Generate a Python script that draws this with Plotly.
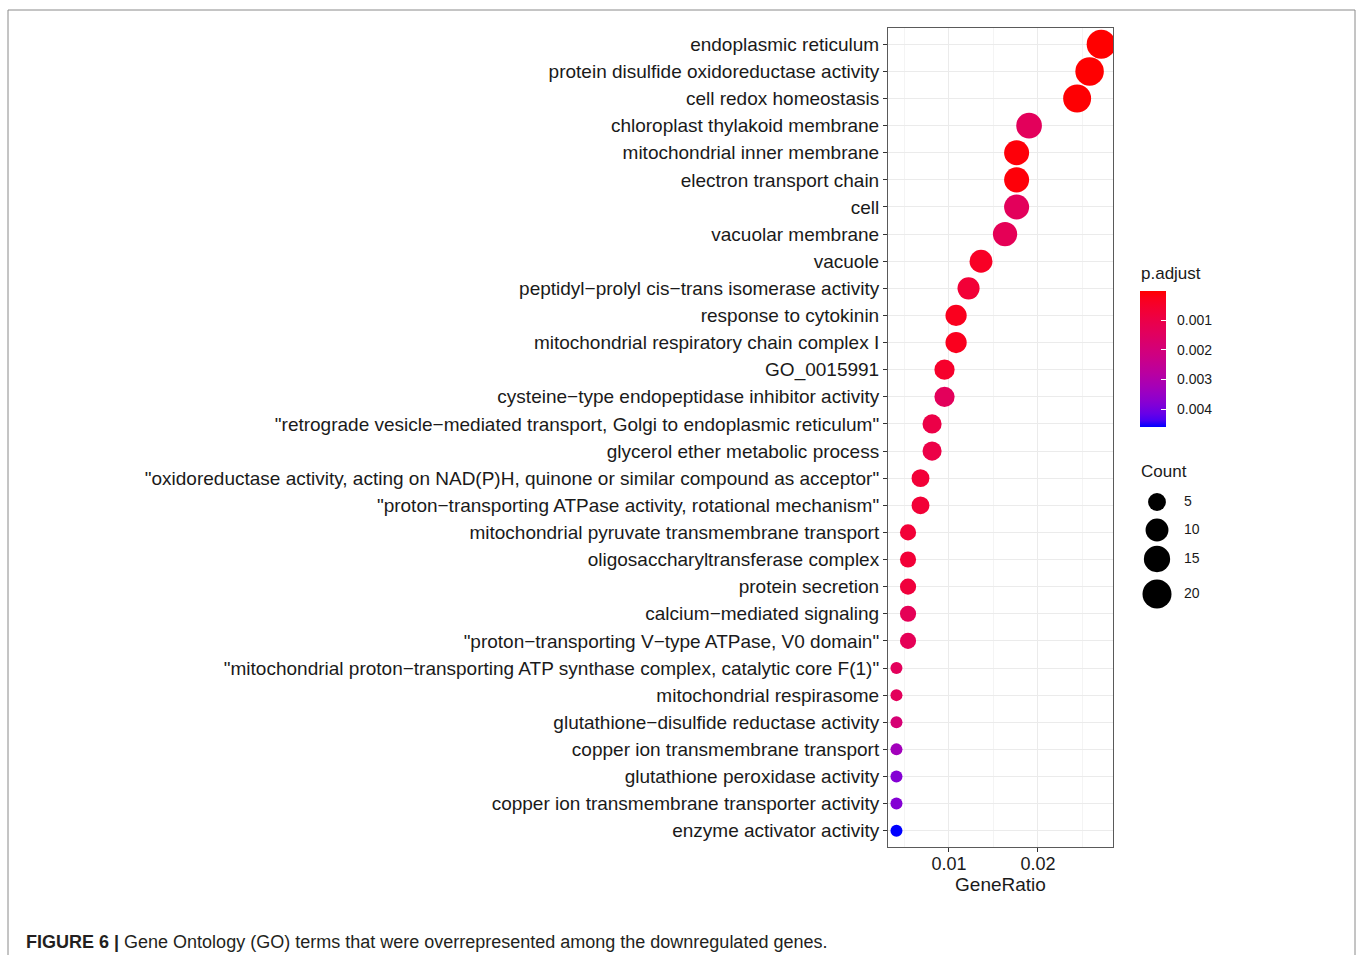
import plotly.graph_objects as go

# ---------------- data ----------------
terms = [
    "endoplasmic reticulum",
    "protein disulfide oxidoreductase activity",
    "cell redox homeostasis",
    "chloroplast thylakoid membrane",
    "mitochondrial inner membrane",
    "electron transport chain",
    "cell",
    "vacuolar membrane",
    "vacuole",
    "peptidyl\u2212prolyl cis\u2212trans isomerase activity",
    "response to cytokinin",
    "mitochondrial respiratory chain complex I",
    "GO_0015991",
    "cysteine\u2212type endopeptidase inhibitor activity",
    "\"retrograde vesicle\u2212mediated transport, Golgi to endoplasmic reticulum\"",
    "glycerol ether metabolic process",
    "\"oxidoreductase activity, acting on NAD(P)H, quinone or similar compound as acceptor\"",
    "\"proton\u2212transporting ATPase activity, rotational mechanism\"",
    "mitochondrial pyruvate transmembrane transport",
    "oligosaccharyltransferase complex",
    "protein secretion",
    "calcium\u2212mediated signaling",
    "\"proton\u2212transporting V\u2212type ATPase, V0 domain\"",
    "\"mitochondrial proton\u2212transporting ATP synthase complex, catalytic core F(1)\"",
    "mitochondrial respirasome",
    "glutathione\u2212disulfide reductase activity",
    "copper ion transmembrane transport",
    "glutathione peroxidase activity",
    "copper ion transmembrane transporter activity",
    "enzyme activator activity",
]
gene_ratio = [0.0271, 0.0258, 0.0244, 0.0190, 0.0176, 0.0176, 0.0176, 0.0163,
              0.0136, 0.0122, 0.0108, 0.0108, 0.0095, 0.0095, 0.0081, 0.0081,
              0.0068, 0.0068, 0.0054, 0.0054, 0.0054, 0.0054, 0.0054,
              0.0041, 0.0041, 0.0041, 0.0041, 0.0041, 0.0041, 0.0041]
counts = [20, 19, 18, 14, 13, 13, 13, 12, 10, 9, 8, 8, 7, 7, 6, 6, 5, 5,
          4, 4, 4, 4, 4, 3, 3, 3, 3, 3, 3, 3]
p_adjust = [0.00002, 0.00003, 0.00005, 0.0014, 0.0001, 0.0001, 0.0014, 0.0013,
            0.0004, 0.0007, 0.0003, 0.0003, 0.0005, 0.0014, 0.0010, 0.0010,
            0.0007, 0.0007, 0.0007, 0.0007, 0.0008, 0.0013, 0.0013,
            0.0014, 0.0014, 0.0019, 0.0033, 0.0038, 0.0038, 0.0046]
p_ticks = [0.001, 0.002, 0.003, 0.004]
p_tick_labels = ["0.001", "0.002", "0.003", "0.004"]
count_legend = [5, 10, 15, 20]
x_ticks = [0.01, 0.02]
x_tick_labels = ["0.01", "0.02"]

# ---------------- styling helpers ----------------
W, H = 1358, 955
ML, MR, MT, MB = 888, 100, 28, 108
PW, PH = W - ML - MR, H - MT - MB
PANEL_R = 1113


def px(x):
    return (x - ML) / PW


def py(y):
    return (H - MB - y) / PH


def srgb_to_lab(c):
    def lin(v):
        v = v / 255
        return v / 12.92 if v <= 0.04045 else ((v + 0.055) / 1.055) ** 2.4
    r, g, b = (lin(v) for v in c)
    X = (0.4124 * r + 0.3576 * g + 0.1805 * b) / 0.95047
    Y = (0.2126 * r + 0.7152 * g + 0.0722 * b)
    Z = (0.0193 * r + 0.1192 * g + 0.9505 * b) / 1.08883

    def f(t):
        return t ** (1 / 3) if t > 0.008856 else 7.787 * t + 16 / 116
    fx, fy, fz = f(X), f(Y), f(Z)
    return (116 * fy - 16, 500 * (fx - fy), 200 * (fy - fz))


def lab_to_srgb(L, a, b):
    fy = (L + 16) / 116
    fx = fy + a / 500
    fz = fy - b / 200

    def finv(t):
        return t ** 3 if t ** 3 > 0.008856 else (t - 16 / 116) / 7.787
    X, Y, Z = 0.95047 * finv(fx), finv(fy), 1.08883 * finv(fz)
    r = 3.2406 * X - 1.5372 * Y - 0.4986 * Z
    g = -0.9689 * X + 1.8758 * Y + 0.0415 * Z
    bb = 0.0557 * X - 0.2040 * Y + 1.0570 * Z

    def gam(v):
        v = min(max(v, 0), 1)
        v = 12.92 * v if v <= 0.0031308 else 1.055 * v ** (1 / 2.4) - 0.055
        return int(round(v * 255))
    return "rgb(%d,%d,%d)" % (gam(r), gam(g), gam(bb))


lab_blue = srgb_to_lab((0, 0, 255))
lab_red = srgb_to_lab((255, 0, 0))
NSTOP = 20
colorscale = []
for i in range(NSTOP + 1):
    t = i / NSTOP
    L = lab_blue[0] + (lab_red[0] - lab_blue[0]) * t
    A = lab_blue[1] + (lab_red[1] - lab_blue[1]) * t
    B = lab_blue[2] + (lab_red[2] - lab_blue[2]) * t
    colorscale.append([t, lab_to_srgb(L, A, B)])

cmin_p, cmax_p = min(p_adjust), max(p_adjust)

D_MIN, D_MAX = 12, 29
c_lo, c_hi = min(counts), max(counts)


def diam(c):
    return D_MIN + (D_MAX - D_MIN) * ((c - c_lo) / (c_hi - c_lo)) ** 0.5


FONT = "Liberation Sans, Arial, sans-serif"
TXT = "#1a1a1a"

fig = go.Figure()

fig.add_trace(go.Scatter(
    x=gene_ratio, y=terms, mode="markers",
    marker=dict(
        size=[diam(c) for c in counts],
        sizemode="diameter",
        color=[-p for p in p_adjust],
        colorscale=colorscale,
        cmin=-cmax_p, cmax=-cmin_p,
        line=dict(width=0),
        opacity=1,
        showscale=True,
        colorbar=dict(
            x=px(1140), xanchor="left", xpad=0,
            y=py(359), yanchor="middle", ypad=0,
            lenmode="pixels", len=136,
            thickness=26, outlinewidth=0,
            tickvals=[-v for v in p_ticks],
            ticktext=["\u00a0\u00a0" + s for s in p_tick_labels],
            ticks="inside", ticklen=5, tickcolor="white", tickwidth=1,
            tickfont=dict(family=FONT, size=14, color=TXT),
        ),
    ),
    cliponaxis=True,
    showlegend=False,
    xaxis="x", yaxis="y",
))

# size legend (Count) drawn on a helper axis
leg_y_pix = [502, 530, 559, 594]
fig.add_trace(go.Scatter(
    x=[0.17] * len(count_legend), y=leg_y_pix, mode="markers",
    marker=dict(size=[diam(c) for c in count_legend], color="#000000",
                opacity=1, line=dict(width=0)),
    showlegend=False, xaxis="x2", yaxis="y2", hoverinfo="skip",
))
fig.add_trace(go.Scatter(
    x=[0.44] * len(count_legend), y=leg_y_pix, mode="text",
    text=[str(c) for c in count_legend], textposition="middle right",
    textfont=dict(family=FONT, size=14, color=TXT),
    showlegend=False, xaxis="x2", yaxis="y2", hoverinfo="skip",
))

n = len(terms)
fig.update_layout(
    width=W, height=H,
    margin=dict(l=ML, r=MR, t=MT, b=MB),
    paper_bgcolor="white", plot_bgcolor="white",
    font=dict(family=FONT, color=TXT),
    xaxis=dict(
        domain=[0, px(PANEL_R)],
        range=[0.00315, 0.02843],
        tickvals=x_ticks, ticktext=x_tick_labels,
        tickfont=dict(size=18, color=TXT),
        ticks="outside", ticklen=4, tickcolor="#333",
        ticklabelstandoff=-4,
        showgrid=True, gridcolor="#ebebeb", gridwidth=1.2,
        minor=dict(dtick=0.01, tick0=0.005, showgrid=True,
                   gridcolor="#f4f4f4", gridwidth=0.7, ticks=""),
        showline=True, linecolor="#5a5a5a", linewidth=1, mirror=True,
        zeroline=False,
        title=dict(text="GeneRatio", font=dict(size=19, color=TXT), standoff=0),
    ),
    yaxis=dict(
        categoryorder="array", categoryarray=terms,
        range=[n - 0.4, -0.6],
        tickfont=dict(size=19, color=TXT),
        ticks="outside", ticklen=4, tickcolor="#333",
        showgrid=True, gridcolor="#ebebeb", gridwidth=1.2,
        showline=True, linecolor="#5a5a5a", linewidth=1, mirror=True,
        zeroline=False,
    ),
    xaxis2=dict(domain=[px(1140), px(1240)], range=[0, 1], visible=False,
                anchor="y2", fixedrange=True),
    yaxis2=dict(domain=[py(620), py(480)], range=[620, 480], visible=False,
                anchor="x2", fixedrange=True),
    shapes=[dict(type="rect", xref="paper", yref="paper",
                 x0=px(8), x1=px(1355), y0=py(968), y1=py(10),
                 line=dict(color="#8a8a8a", width=1), fillcolor="rgba(0,0,0,0)",
                 layer="below")],
    annotations=[
        dict(text="p.adjust", xref="paper", yref="paper", x=px(1139), y=py(273),
             xanchor="left", yanchor="middle", showarrow=False,
             font=dict(size=17, color=TXT)),
        dict(text="Count", xref="paper", yref="paper", x=px(1139), y=py(471),
             xanchor="left", yanchor="middle", showarrow=False,
             font=dict(size=17, color=TXT)),
        dict(text="<b>FIGURE 6 |</b> Gene Ontology (GO) terms that were overrepresented among the downregulated genes.",
             xref="paper", yref="paper", x=px(24), y=py(942),
             xanchor="left", yanchor="middle", showarrow=False,
             font=dict(size=18, color="#231f20")),
    ],
)

fig.write_html(
    "out.html",
    config={"displayModeBar": False},
    post_script="document.body.style.margin='0';document.body.style.overflow='hidden';",
)
